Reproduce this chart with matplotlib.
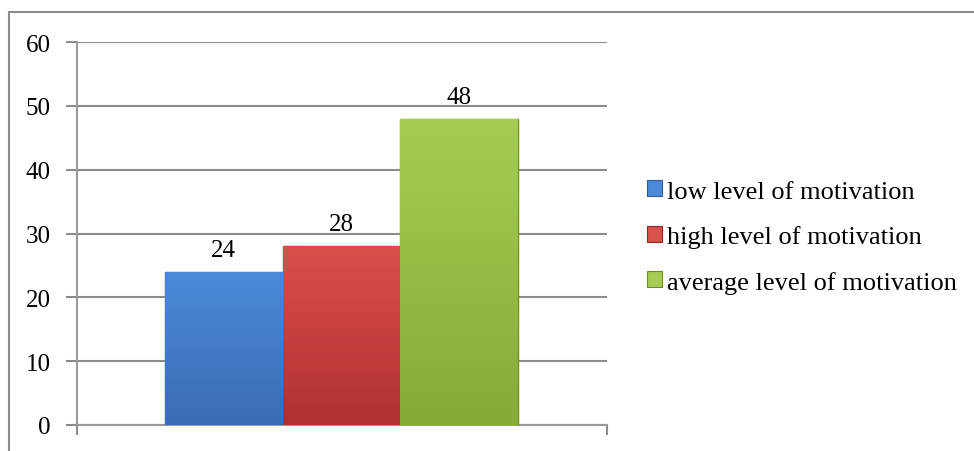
import numpy as np
import matplotlib
matplotlib.use('Agg')
import matplotlib.pyplot as plt
from matplotlib.patches import Patch, Rectangle
from matplotlib.colors import LinearSegmentedColormap

labels = ['low level of motivation', 'high level of motivation', 'average level of motivation']
values = [24, 28, 48]
yticks = [0, 10, 20, 30, 40, 50, 60]

# (top colour, bottom colour) for each bar
tops = ['#4a8ad8', '#d9504d', '#a6cd52']
bottoms = ['#3a6db3', '#b0302e', '#86ab38']
edges = ['#2f5a94', '#8e2624', '#6d8c2c']

plt.rcParams['font.family'] = ['Liberation Serif', 'DejaVu Serif']

fig = plt.figure(figsize=(9.74, 4.52), dpi=100)
ax = fig.add_axes([77 / 974, 1 - 426 / 452, 530 / 974, 383 / 452])

# outer chart border (cropped at right and bottom)
fig.patches.append(Rectangle((9 / 974, -0.1), 1.2, 1 - 13 / 452 + 0.1,
                             transform=fig.transFigure, fill=False,
                             edgecolor='#8c8c8c', linewidth=1.5))

x = np.arange(len(values))
bars = ax.bar(x, values, width=1.0, color=tops, edgecolor=edges, linewidth=1, zorder=3)

# vertical gradient fill
for b, t, bt in zip(bars, tops, bottoms):
    cmap = LinearSegmentedColormap.from_list('g', [bt, t])
    grad = np.linspace(0, 1, 100).reshape(-1, 1)
    xl, yb = b.get_x(), b.get_y()
    im = ax.imshow(grad, cmap=cmap, aspect='auto', origin='lower',
                   extent=[xl, xl + b.get_width(), yb, yb + b.get_height()], zorder=3.5)
    im.set_clip_path(b)

for xi, v in zip(x, values):
    ax.text(xi, v + 2.5, str(v), ha='center', va='baseline', fontsize=18, zorder=5)

ax.set_xlim(-1.246, 3.254)
ax.set_ylim(0, 60)
ax.set_yticks(yticks)
ax.set_xticks([-1.246, 3.254])
ax.set_xticklabels([])
ax.tick_params(axis='y', labelsize=18, length=8, width=1.5, color='#8c8c8c', pad=11)
ax.tick_params(axis='x', length=7, width=1.5, color='#8c8c8c')
ax.grid(axis='y', color='#8c8c8c', linewidth=1.5, zorder=0)
for s in ['top', 'right']:
    ax.spines[s].set_visible(False)
for s in ['left', 'bottom']:
    ax.spines[s].set_color('#9a9a9a')
    ax.spines[s].set_linewidth(1.5)

handles = [Patch(facecolor=t, edgecolor=e, linewidth=0.8) for t, e in zip(tops, edges)]
fig.legend(handles, labels, loc='center left', bbox_to_anchor=(647 / 974, 1 - 238 / 452),
           frameon=False, fontsize=19, handlelength=0.55, handleheight=0.55,
           handletextpad=0.2, labelspacing=0.85, borderaxespad=0, borderpad=0)

fig.savefig('out.png', dpi=100)
